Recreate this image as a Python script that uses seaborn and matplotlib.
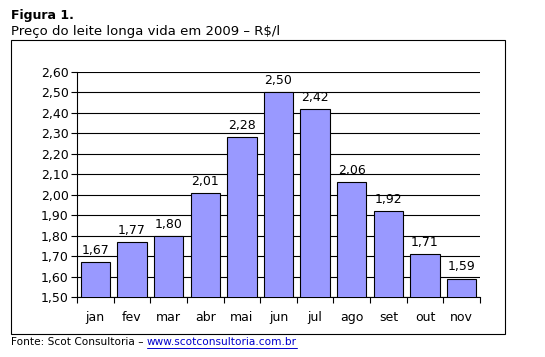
import numpy as np
import pandas as pd
import matplotlib
matplotlib.use('Agg')
import matplotlib.pyplot as plt
import seaborn as sns
from matplotlib.patches import Rectangle

meses = ['jan', 'fev', 'mar', 'abr', 'mai', 'jun', 'jul', 'ago', 'set', 'out', 'nov']
precos = [1.67, 1.77, 1.80, 2.01, 2.28, 2.50, 2.42, 2.06, 1.92, 1.71, 1.59]
y_ticks = [1.50, 1.60, 1.70, 1.80, 1.90, 2.00, 2.10, 2.20, 2.30, 2.40, 2.50, 2.60]

sns.set_style('white')
plt.rcParams['font.family'] = ['DejaVu Sans']
plt.rcParams['text.color'] = 'black'
plt.rcParams['xtick.color'] = 'black'
plt.rcParams['ytick.color'] = 'black'

df = pd.DataFrame({'mes': meses, 'preco': precos})

W, H = 545, 357
fig = plt.figure(figsize=(W / 100, H / 100), dpi=100)
# area do grafico em pixels: esquerda 77, direita 480, topo 72, base 297
ax = fig.add_axes([77 / W, 1 - 297 / H, (480 - 77) / W, (297 - 72) / H])

sns.barplot(data=df, x='mes', y='preco', color='#9999FF', saturation=1,
            edgecolor='black', linewidth=0.8, width=0.8, ax=ax, zorder=3)

ax.set_ylim(1.50, 2.60)
ax.set_xlim(-0.5, len(meses) - 0.5)
ax.set_yticks(y_ticks)
ax.set_yticklabels([('%.2f' % v).replace('.', ',') for v in y_ticks], fontsize=9)
ax.set_xticks(np.arange(len(meses)))
ax.set_xticklabels(meses, fontsize=9)
ax.set_xlabel('')
ax.set_ylabel('')

ax.yaxis.grid(True, color='black', linewidth=0.8, zorder=0)
ax.set_axisbelow(True)
ax.tick_params(axis='y', length=4, width=0.8, color='black', pad=2, left=True)
ax.tick_params(axis='x', length=0, pad=10)
# marcas entre categorias
ax.set_xticks(np.arange(-0.5, len(meses)), minor=True)
ax.tick_params(axis='x', which='minor', length=4, width=0.8, color='black', bottom=True)

for side in ['top', 'right']:
    ax.spines[side].set_visible(False)
for side in ['left', 'bottom']:
    ax.spines[side].set_color('black')
    ax.spines[side].set_linewidth(0.8)

for i, v in enumerate(precos):
    ax.text(i, v + 0.025, ('%.2f' % v).replace('.', ','), ha='center', va='bottom',
            fontsize=9, color='black')

# moldura externa
fig.patches.append(Rectangle((11 / W, 1 - 334 / H), (505 - 11) / W, (334 - 40) / H,
                             transform=fig.transFigure, fill=False,
                             edgecolor='black', linewidth=0.8))

fig.text(11 / W, 1 - 15 / H, 'Figura 1.', fontsize=9, fontweight='bold', va='center')
fig.text(11 / W, 1 - 32 / H, 'Preço do leite longa vida em 2009 – R$/l', fontsize=9.5,
         va='center')
fonte = fig.text(11 / W, 1 - 342 / H, 'Fonte: Scot Consultoria – ', fontsize=7.6,
                 va='center')
fig.canvas.draw()
bb = fonte.get_window_extent()
x0 = bb.x1 / W
link = fig.text(x0, 1 - 342 / H, 'www.scotconsultoria.com.br', fontsize=7.6,
                va='center', color='#0000CC')
fig.canvas.draw()
lb = link.get_window_extent()
fig.add_artist(plt.Line2D([lb.x0 / W, lb.x1 / W], [1 - 348 / H, 1 - 348 / H],
                          color='#0000CC', linewidth=0.7, transform=fig.transFigure))

fig.savefig('out.png', dpi=100)
